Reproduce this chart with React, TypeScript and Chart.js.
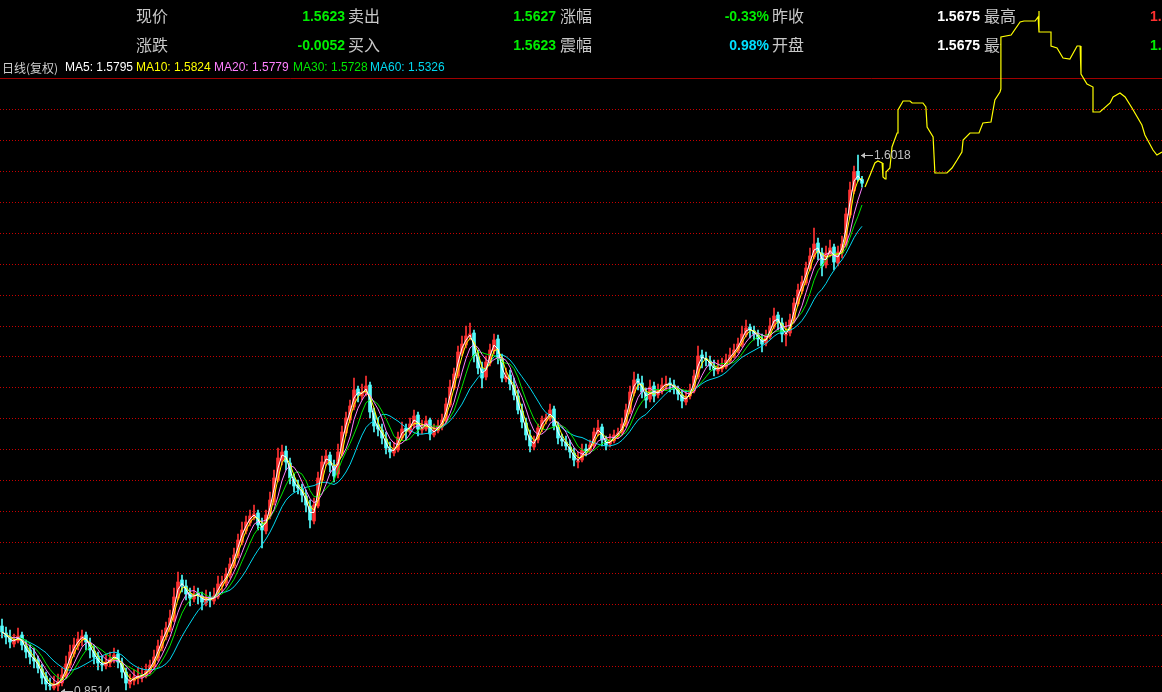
import React, { useEffect, useRef } from 'react';
import { Chart, registerables } from 'chart.js';

Chart.register(...registerables);

// ---- Daily candles (price) ----
const opens = [0.9424,0.9326,0.9256,0.9172,0.9214,0.9298,0.9144,0.9088,0.8976,0.8948,
0.8822,0.8724,0.8598,0.8556,0.8584,0.8626,0.8724,0.8878,0.9032,0.9144,
0.9228,0.9298,0.9186,0.9074,0.9004,0.8892,0.8864,0.8906,0.8948,0.9032,
0.8906,0.8780,0.8612,0.8654,0.8696,0.8710,0.8724,0.8780,0.8864,0.8976,
0.9116,0.9270,0.9368,0.9508,0.9816,1.0068,0.9984,0.9872,0.9802,0.9886,
0.9844,0.9746,0.9830,0.9774,0.9830,0.9984,1.0026,1.0138,1.0264,1.0404,
1.0600,1.0754,1.0866,1.0950,1.1006,1.0852,1.0754,1.0964,1.1160,1.1468,
1.1748,1.1874,1.1706,1.1482,1.1398,1.1342,1.1244,1.1104,1.0894,1.1104,
1.1468,1.1706,1.1818,1.1664,1.1552,1.1832,1.2126,1.2308,1.2490,1.2742,
1.2644,1.2686,1.2798,1.2406,1.2238,1.2168,1.2042,1.1902,1.1846,1.1888,
1.2056,1.2196,1.2140,1.2238,1.2378,1.2168,1.2182,1.2308,1.2098,1.2154,
1.2210,1.2294,1.2518,1.2756,1.2924,1.3246,1.3358,1.3470,1.3526,1.3190,
1.3022,1.2910,1.3106,1.3274,1.3442,1.3162,1.2882,1.2938,1.2798,1.2644,
1.2434,1.2266,1.2084,1.1930,1.2028,1.2182,1.2294,1.2322,1.2462,1.2210,
1.2042,1.2000,1.1930,1.1846,1.1720,1.1748,1.1902,1.1888,1.1944,1.2126,
1.2210,1.2014,1.1972,1.2014,1.2084,1.2140,1.2238,1.2420,1.2686,1.2882,
1.2826,1.2686,1.2602,1.2784,1.2658,1.2714,1.2784,1.2826,1.2798,1.2728,
1.2658,1.2560,1.2644,1.2714,1.2910,1.3218,1.3162,1.3134,1.3050,1.2994,
1.3022,1.3050,1.3134,1.3204,1.3274,1.3358,1.3498,1.3610,1.3554,1.3498,
1.3428,1.3386,1.3470,1.3610,1.3778,1.3666,1.3498,1.3526,1.3694,1.3932,
1.4114,1.4226,1.4422,1.4590,1.4786,1.4646,1.4478,1.4632,1.4730,1.4506,
1.4646,1.4758,1.5178,1.5514,1.5790,1.5675];

const highs = [0.9522,0.9410,0.9368,0.9312,0.9396,0.9340,0.9228,0.9158,0.9116,0.9004,
0.8892,0.8780,0.8696,0.8724,0.8752,0.8836,0.9004,0.9158,0.9256,0.9340,
0.9368,0.9340,0.9256,0.9158,0.9060,0.9004,0.9032,0.9060,0.9116,0.9088,
0.8976,0.8836,0.8752,0.8808,0.8836,0.8836,0.8892,0.8948,0.9088,0.9228,
0.9368,0.9480,0.9648,0.9956,1.0180,1.0138,1.0068,0.9956,0.9984,0.9956,
0.9900,0.9928,0.9900,0.9956,1.0124,1.0124,1.0236,1.0376,1.0516,1.0712,
1.0880,1.0964,1.1048,1.1118,1.1048,1.0936,1.1048,1.1300,1.1608,1.1916,
1.1958,1.1944,1.1776,1.1552,1.1468,1.1412,1.1328,1.1188,1.1216,1.1580,
1.1804,1.1888,1.1860,1.1748,1.1972,1.2224,1.2420,1.2588,1.2896,1.2784,
1.2812,1.2924,1.2840,1.2476,1.2336,1.2252,1.2140,1.2000,1.2000,1.2140,
1.2280,1.2252,1.2336,1.2448,1.2420,1.2308,1.2364,1.2336,1.2252,1.2308,
1.2392,1.2616,1.2868,1.3036,1.3344,1.3484,1.3624,1.3666,1.3568,1.3288,
1.3120,1.3204,1.3372,1.3512,1.3498,1.3232,1.3036,1.3008,1.2896,1.2728,
1.2532,1.2336,1.2168,1.2084,1.2252,1.2364,1.2392,1.2532,1.2504,1.2280,
1.2112,1.2084,1.2028,1.1916,1.1860,1.1972,1.1972,1.2028,1.2196,1.2308,
1.2252,1.2084,1.2112,1.2168,1.2196,1.2336,1.2532,1.2784,1.2980,1.2952,
1.2924,1.2756,1.2868,1.2840,1.2812,1.2896,1.2924,1.2896,1.2868,1.2784,
1.2728,1.2728,1.2812,1.3008,1.3344,1.3288,1.3260,1.3204,1.3148,1.3148,
1.3176,1.3232,1.3316,1.3372,1.3456,1.3624,1.3708,1.3652,1.3624,1.3568,
1.3512,1.3568,1.3736,1.3876,1.3820,1.3736,1.3680,1.3792,1.4016,1.4212,
1.4324,1.4520,1.4716,1.4996,1.4856,1.4716,1.4744,1.4828,1.4772,1.4744,
1.4884,1.5276,1.5640,1.5864,1.6018,1.5720];

const lows = [0.9256,0.9172,0.9116,0.9130,0.9186,0.9088,0.8976,0.8892,0.8836,0.8766,
0.8612,0.8528,0.8528,0.8528,0.8514,0.8584,0.8696,0.8836,0.8990,0.9088,
0.9144,0.9088,0.8976,0.8892,0.8808,0.8794,0.8822,0.8850,0.8906,0.8836,
0.8696,0.8528,0.8556,0.8598,0.8612,0.8640,0.8696,0.8752,0.8822,0.8934,
0.9074,0.9228,0.9340,0.9480,0.9788,0.9900,0.9788,0.9704,0.9760,0.9732,
0.9648,0.9704,0.9690,0.9732,0.9802,0.9900,0.9984,1.0096,1.0236,1.0376,
1.0558,1.0712,1.0824,1.0908,1.0768,1.0516,1.0712,1.0922,1.1118,1.1440,
1.1678,1.1608,1.1412,1.1300,1.1272,1.1160,1.1020,1.0796,1.0852,1.1076,
1.1440,1.1664,1.1580,1.1440,1.1496,1.1804,1.2084,1.2266,1.2448,1.2560,
1.2588,1.2644,1.2336,1.2140,1.2084,1.1972,1.1832,1.1776,1.1804,1.1860,
1.2028,1.2028,1.2112,1.2196,1.2084,1.2112,1.2154,1.2028,1.2070,1.2126,
1.2168,1.2266,1.2490,1.2728,1.2896,1.3204,1.3316,1.3428,1.3120,1.2952,
1.2756,1.2868,1.3064,1.3232,1.3092,1.2840,1.2840,1.2728,1.2588,1.2392,
1.2196,1.2028,1.1860,1.1888,1.1986,1.2140,1.2252,1.2294,1.2168,1.1972,
1.1944,1.1888,1.1776,1.1664,1.1636,1.1720,1.1804,1.1846,1.1916,1.2084,
1.1944,1.1888,1.1930,1.1986,1.2056,1.2098,1.2210,1.2392,1.2644,1.2728,
1.2616,1.2476,1.2560,1.2560,1.2616,1.2672,1.2728,1.2700,1.2672,1.2588,
1.2476,1.2518,1.2602,1.2686,1.2882,1.3036,1.3064,1.3008,1.2924,1.2952,
1.2980,1.3022,1.3106,1.3176,1.3246,1.3330,1.3470,1.3456,1.3428,1.3344,
1.3260,1.3344,1.3442,1.3582,1.3568,1.3400,1.3344,1.3484,1.3666,1.3904,
1.4072,1.4198,1.4394,1.4562,1.4548,1.4324,1.4436,1.4590,1.4408,1.4464,
1.4576,1.4730,1.5136,1.5472,1.5650,1.5566];

const closes = [0.9340,0.9270,0.9200,0.9228,0.9284,0.9158,0.9060,0.8990,0.8934,0.8836,
0.8696,0.8612,0.8584,0.8612,0.8640,0.8738,0.8892,0.9060,0.9158,0.9242,
0.9284,0.9200,0.9088,0.8990,0.8906,0.8878,0.8920,0.8962,0.9018,0.8920,
0.8780,0.8626,0.8668,0.8710,0.8724,0.8738,0.8794,0.8878,0.8990,0.9144,
0.9284,0.9396,0.9536,0.9830,1.0040,0.9998,0.9872,0.9816,0.9872,0.9858,
0.9760,0.9816,0.9788,0.9844,1.0012,1.0040,1.0152,1.0292,1.0418,1.0628,
1.0768,1.0880,1.0964,1.0992,1.0838,1.0768,1.0978,1.1188,1.1496,1.1776,
1.1860,1.1720,1.1496,1.1384,1.1356,1.1258,1.1118,1.0908,1.1118,1.1496,
1.1720,1.1804,1.1678,1.1524,1.1860,1.2140,1.2336,1.2504,1.2728,1.2658,
1.2700,1.2784,1.2420,1.2224,1.2182,1.2056,1.1916,1.1860,1.1902,1.2070,
1.2182,1.2154,1.2252,1.2364,1.2182,1.2196,1.2294,1.2112,1.2168,1.2224,
1.2308,1.2532,1.2770,1.2952,1.3260,1.3372,1.3484,1.3512,1.3204,1.3036,
1.2896,1.3120,1.3288,1.3428,1.3176,1.2896,1.2924,1.2812,1.2658,1.2448,
1.2280,1.2098,1.1944,1.2014,1.2196,1.2308,1.2336,1.2448,1.2224,1.2056,
1.2014,1.1944,1.1860,1.1748,1.1734,1.1888,1.1874,1.1958,1.2140,1.2196,
1.2028,1.1958,1.2028,1.2098,1.2126,1.2252,1.2448,1.2700,1.2868,1.2840,
1.2700,1.2588,1.2770,1.2644,1.2728,1.2798,1.2812,1.2812,1.2742,1.2672,
1.2574,1.2630,1.2728,1.2924,1.3204,1.3176,1.3148,1.3064,1.3008,1.3036,
1.3064,1.3148,1.3218,1.3288,1.3372,1.3512,1.3596,1.3568,1.3512,1.3442,
1.3372,1.3484,1.3624,1.3764,1.3680,1.3512,1.3512,1.3708,1.3946,1.4128,
1.4240,1.4436,1.4604,1.4772,1.4660,1.4464,1.4646,1.4716,1.4520,1.4660,
1.4772,1.5192,1.5528,1.5780,1.5675,1.5623];

// moving-average windows (in candles of this compressed view) for MA5..MA60
const maWindows = [2, 3, 5, 7, 12];
const maNames = ['MA5', 'MA10', 'MA20', 'MA30', 'MA60'];
const maValuesText = ['1.5795', '1.5824', '1.5779', '1.5728', '1.5326'];
const maColors = ['#ffffff', '#ffff00', '#ff80ff', '#00e600', '#00d8f0'];

// ---- Intraday overlay line (minutes, price) ----
const intradayTimes = [0,1.7,3.3,4.3,5.7,6,6.7,7,8.3,9,10.7,11,12.7,15,15.7,19.3,20.3,20.7,22.7,23.3,
27.3,29,30.7,32.3,32.7,35,38,39.3,42,42.7,43.3,45,45.3,45.3,48.7,51.7,53,56.7,57.7,58,
58,62,62,64,66,68.3,70.7,71.7,72,74,76,76,78.3,81.7,82.7,85,86.7,89,92.3,93.3,96,97.3,99];
const intradayPrices = [1.5570,1.5738,1.5906,1.5934,1.5906,1.5710,1.5682,1.5780,1.5836,1.6130,
1.6326,1.6648,1.6774,1.6774,1.6746,1.6746,1.6690,1.6410,1.6270,1.5766,
1.5766,1.5836,1.5948,1.6060,1.6228,1.6326,1.6326,1.6466,1.6480,1.6648,
1.6788,1.6900,1.6942,1.7670,1.7698,1.7880,1.7894,1.7894,1.7950,1.8034,
1.7740,1.7740,1.7544,1.7516,1.7376,1.7362,1.7544,1.7544,1.7152,1.7012,
1.6970,1.6620,1.6620,1.6746,1.6830,1.6886,1.6830,1.6676,1.6438,1.6298,
1.6088,1.6018,1.6060];

// ---- header quotes ----
const quoteRow1 = [
  { label: '现价', value: '1.5623', color: '#00ee00' },
  { label: '卖出', value: '1.5627', color: '#00ee00' },
  { label: '涨幅', value: '-0.33%', color: '#00ee00' },
  { label: '昨收', value: '1.5675', color: '#ffffff' },
  { label: '最高', value: '1.5720', color: '#ff3030' },
];
const quoteRow2 = [
  { label: '涨跌', value: '-0.0052', color: '#00ee00' },
  { label: '买入', value: '1.5623', color: '#00ee00' },
  { label: '震幅', value: '0.98%', color: '#00e0ff' },
  { label: '开盘', value: '1.5675', color: '#ffffff' },
  { label: '最低', value: '1.5566', color: '#00ee00' },
];

// grid lines (price)
const gridTop = 1.6662;
const gridStep = 0.0433;
const gridCount = 19;

const Y_MIN = 0.85;
const Y_MAX = 1.8188;

function sma(values: number[], n: number): number[] {
  return values.map((_, i) => {
    const s = Math.max(0, i - n + 1);
    let sum = 0;
    for (let j = s; j <= i; j++) sum += values[j];
    return sum / (i - s + 1);
  });
}

const UP = '#ff3232';
const DOWN = '#54fcfc';
const LABEL_FONT = '16px "Noto Sans CJK SC", sans-serif';
const VALUE_FONT = 'bold 14px "Liberation Sans", Arial, sans-serif';

const overlayPlugin = {
  id: 'tdxOverlay',
  beforeDraw(chart: any) {
    const { ctx, width, height } = chart;
    ctx.save();
    ctx.fillStyle = '#000';
    ctx.fillRect(0, 0, width, height);
    ctx.restore();
  },
  beforeDatasetsDraw(chart: any) {
    const { ctx, width } = chart;
    const ys = chart.scales.y;
    ctx.save();
    // dotted grid
    ctx.strokeStyle = '#c80000';
    ctx.lineWidth = 1;
    ctx.setLineDash([1, 2]);
    for (let k = 0; k < gridCount; k++) {
      const v = gridTop - k * gridStep;
      const py = Math.round(ys.getPixelForValue(v)) + 0.5;
      ctx.beginPath();
      ctx.moveTo(0, py);
      ctx.lineTo(width, py);
      ctx.stroke();
    }
    ctx.setLineDash([]);
    ctx.strokeStyle = '#a00000';
    ctx.beginPath();
    ctx.moveTo(0, 78.5);
    ctx.lineTo(width, 78.5);
    ctx.stroke();

    // header quotes
    const labelX = [136, 348, 560, 772, 984];
    const valueRight = [345, 556, 769, 980];
    const rows = [quoteRow1, quoteRow2];
    const rowY = [16, 45];
    ctx.textBaseline = 'middle';
    rows.forEach((row, r) => {
      row.forEach((q, c) => {
        ctx.save();
        if (r === 1 && c === 4) {
          ctx.beginPath();
          ctx.rect(0, 0, 1001, 692);
          ctx.clip();
        }
        ctx.font = LABEL_FONT;
        ctx.fillStyle = '#c8c8c8';
        ctx.textAlign = 'left';
        ctx.fillText(q.label, labelX[c], rowY[r]);
        ctx.restore();
        ctx.font = VALUE_FONT;
        ctx.fillStyle = q.color;
        if (c < 4) {
          ctx.textAlign = 'right';
          ctx.fillText(q.value, valueRight[c], rowY[r] + 1);
        } else {
          ctx.textAlign = 'left';
          ctx.fillText(q.value, 1150, rowY[r] + 1);
        }
      });
    });

    // MA legend row
    ctx.textAlign = 'left';
    ctx.font = '12px "Noto Sans CJK SC", sans-serif';
    ctx.fillStyle = '#d0d0d0';
    ctx.fillText('日线(复权)', 2, 68);
    const maX = [65, 136, 214, 293, 370];
    ctx.font = '12px "Liberation Sans", Arial, sans-serif';
    maNames.forEach((n, i) => {
      ctx.fillStyle = maColors[i];
      ctx.fillText(`${n}: ${maValuesText[i]}`, maX[i], 68);
    });
    ctx.restore();
  },
  afterDatasetsDraw(chart: any) {
    const { ctx } = chart;
    const xs = chart.scales.x;
    const ys = chart.scales.y;
    let hi = 0, lo = 0;
    highs.forEach((h, i) => { if (h > highs[hi]) hi = i; });
    lows.forEach((l, i) => { if (l < lows[lo]) lo = i; });
    const drawMark = (idx: number, val: number) => {
      const px = xs.getPixelForValue(idx);
      const py = Math.round(ys.getPixelForValue(val)) + 0.5;
      ctx.save();
      ctx.strokeStyle = '#c0c0c0';
      ctx.fillStyle = '#c0c0c0';
      ctx.lineWidth = 1;
      ctx.beginPath();
      ctx.moveTo(px + 3, py);
      ctx.lineTo(px + 15, py);
      ctx.stroke();
      ctx.beginPath();
      ctx.moveTo(px + 3, py);
      ctx.lineTo(px + 7, py - 3);
      ctx.lineTo(px + 7, py + 3);
      ctx.closePath();
      ctx.fill();
      ctx.font = '12px "Liberation Sans", Arial, sans-serif';
      ctx.textBaseline = 'middle';
      ctx.textAlign = 'left';
      ctx.fillText(val.toFixed(4), px + 16, py);
      ctx.restore();
    };
    drawMark(hi, highs[hi]);
    drawMark(lo, lows[lo]);
  },
};

export default function App() {
  const ref = useRef<HTMLCanvasElement>(null);
  useEffect(() => {
    document.body.style.margin = '0';
    document.body.style.background = '#000';
    const canvas = ref.current;
    if (!canvas) return;

    const idx = closes.map((_, i) => i);
    const colors = closes.map((c, i) => (c >= opens[i] ? UP : DOWN));
    const wickData = idx.map((i) => ({ x: i, y: [lows[i], highs[i]] }));
    const bodyData = idx.map((i) => ({ x: i, y: [Math.min(opens[i], closes[i]), Math.max(opens[i], closes[i])] }));

    const maSets = maWindows.map((w, k) => ({
      type: 'line',
      label: maNames[k],
      data: sma(closes, w).map((v, i) => ({ x: i, y: v })),
      borderColor: maColors[k],
      borderWidth: 1,
      pointRadius: 0,
      tension: 0,
      xAxisID: 'x',
      yAxisID: 'y',
      order: 1,
    }));

    const chart = new Chart(canvas, {
      type: 'bar',
      data: {
        datasets: [
          {
            type: 'line',
            label: 'intraday',
            data: intradayTimes.map((t, i) => ({ x: t, y: intradayPrices[i] })),
            borderColor: '#ffff00',
            borderWidth: 1.2,
            pointRadius: 0,
            tension: 0,
            xAxisID: 'x2',
            yAxisID: 'y',
            order: 0,
          },
          ...maSets,
          {
            type: 'bar',
            label: 'body',
            data: bodyData,
            backgroundColor: colors,
            borderWidth: 0,
            barThickness: 3,
            minBarLength: 1,
            grouped: false,
            xAxisID: 'x',
            yAxisID: 'y',
            order: 2,
          },
          {
            type: 'bar',
            label: 'wick',
            data: wickData,
            backgroundColor: colors,
            borderWidth: 0,
            barThickness: 1,
            minBarLength: 1,
            grouped: false,
            xAxisID: 'x',
            yAxisID: 'y',
            order: 3,
          },
        ] as any,
      },
      options: {
        animation: false,
        responsive: false,
        devicePixelRatio: 1,
        layout: { padding: 0 },
        plugins: { legend: { display: false }, tooltip: { enabled: false } },
        events: [],
        scales: {
          x: { type: 'linear', min: -0.5, max: 290, display: false, offset: false },
          x2: { type: 'linear', min: -288.33, max: 99, display: false, offset: false },
          y: { type: 'linear', min: Y_MIN, max: Y_MAX, display: false, beginAtZero: false },
        },
      } as any,
      plugins: [overlayPlugin],
    });
    return () => chart.destroy();
  }, []);

  return (
    <div style={{ width: 1162, height: 692, background: '#000' }}>
      <canvas ref={ref} width={1162} height={692} style={{ display: 'block' }} />
    </div>
  );
}
